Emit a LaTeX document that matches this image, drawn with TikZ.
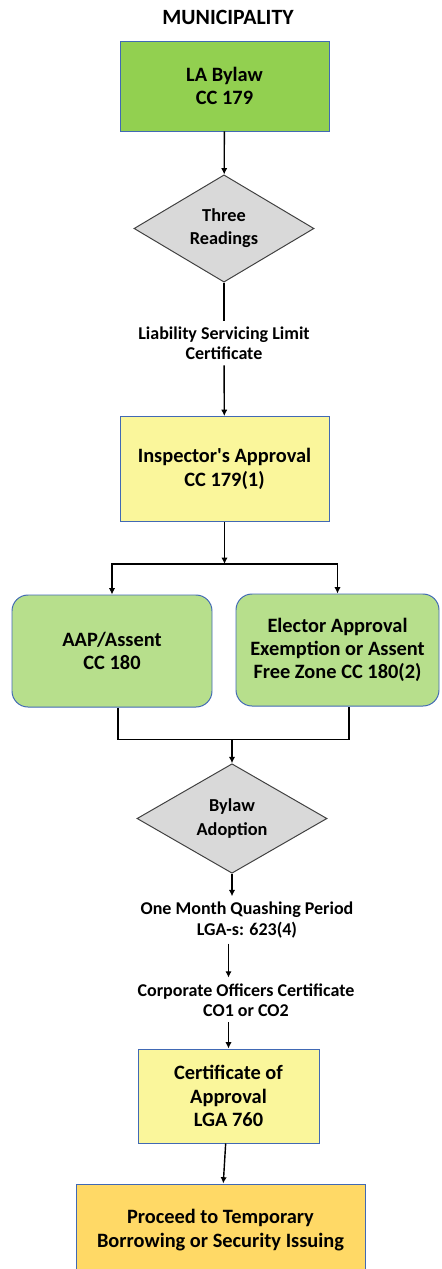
\documentclass[tikz,border=0pt]{standalone}
\usepackage{fontspec}
\setmainfont{Carlito}
\usepackage{tikz}
\usepackage{xcolor}
\usetikzlibrary{shapes,shapes.geometric,arrows.meta,positioning}
\definecolor{bylawgreen}{RGB}{146,208,80}
\definecolor{assentgreen}{RGB}{183,223,140}
\definecolor{approvalyellow}{RGB}{250,246,155}
\definecolor{proceedorange}{RGB}{255,217,102}
\definecolor{outlineblue}{RGB}{65,105,180}
\definecolor{readinggray}{RGB}{217,217,217}
\definecolor{edgegray}{RGB}{64,64,64}

\begin{document}
\begin{tikzpicture}[
    boxtext/.style={font=\fontsize{14.5}{16.6}\selectfont\bfseries, align=center},
    stagebox/.style={boxtext, draw=outlineblue, line width=0.7pt},
    decision/.style={font=\fontsize{13}{16.4}\selectfont\bfseries, align=center, diamond, draw=edgegray, line width=0.7pt, fill=readinggray, inner sep=0pt},
    steplabel/.style={font=\fontsize{12.8}{14.4}\selectfont\bfseries, align=center, inner sep=4pt},
    flowline/.style={draw, line width=1pt},
    flowarrow/.style={flowline, -{Latex[length=4.5pt,width=4.5pt]}}
  ]
        \useasboundingbox (0,0) rectangle (11.025,-31.725);

        % Title
        \node [font=\fontsize{15.5}{18}\selectfont\bfseries] (title) at (5.7,-0.425) {MUNICIPALITY};

        % Bylaw and readings
        \node [stagebox, fill=bylawgreen, below of=title, node distance=1.725cm, xshift=-0.0875cm, minimum width=5.225cm, minimum height=2.25cm] (bylaw) {LA Bylaw\\CC 179};
        \node [decision, below of=bylaw, node distance=3.5625cm, xshift=-0.0125cm, minimum width=4.5cm, minimum height=2.675cm] (readings) {Three\\Readings};
        \node [steplabel, below of=readings, node distance=2.8625cm] (limit) {Liability Servicing Limit\\Certificate};

        % Inspector
        \node [stagebox, fill=approvalyellow, below of=limit, node distance=3.15cm, xshift=0.0125cm, minimum width=5.225cm, minimum height=2.625cm] (inspector) {Inspector\textquotesingle s Approval\\CC 179(1)};

        % Elector approval
        \node [stagebox, fill=assentgreen, rounded corners=0.4cm, below of=inspector, node distance=4.55cm, xshift=-2.8125cm, minimum width=5cm, minimum height=2.8cm] (assent) {AAP/Assent\\CC 180};
        \node [stagebox, fill=assentgreen, rounded corners=0.4cm, below of=inspector, node distance=4.525cm, xshift=2.825cm, minimum width=5.075cm, minimum height=2.8cm] (exemption) {Elector Approval\\Exemption or Assent\\Free Zone CC 180(2)};

        % Adoption
        \node [decision, below of=inspector, node distance=8.7375cm, xshift=0.1875cm, minimum width=4.75cm, minimum height=2.675cm] (adoption) {Bylaw\\Adoption};
        \node [steplabel, below of=adoption, node distance=2.5375cm, xshift=0.375cm] (quashing) {One Month Quashing Period\\LGA-s: 623(4)};
        \node [steplabel, below of=quashing, node distance=2cm, xshift=-0.025cm] (officers) {Corporate Officers Certificate\\CO1 or CO2};

        % Certificate and result
        \node [stagebox, fill=approvalyellow, below of=officers, node distance=2.4cm, xshift=-0.4375cm, minimum width=4.525cm, minimum height=2.35cm] (certificate) {Certificate of\\Approval\\LGA 760};
        \node [stagebox, fill=proceedorange, below of=certificate, node distance=3.35cm, xshift=-0.2cm, minimum width=7.225cm, minimum height=2.3cm] (proceed) {Proceed to Temporary\\Borrowing or Security Issuing};

        % Junctions
        \coordinate [below=1.05cm of inspector.south] (split);
        \coordinate [above=0.6cm of adoption.north] (merge);

        % Arrows
        \draw [flowarrow] (bylaw) -- (readings);
        \draw [flowline] (readings) -- (limit);
        \draw [flowarrow] (limit) -- (inspector);
        \draw [flowarrow] (inspector) -- (split);
        \draw [flowline, {Latex[length=4.5pt,width=4.5pt]}-{Latex[length=4.5pt,width=4.5pt]}] (assent.north) |- (split) -| (exemption.north);
        \draw [flowline] ([xshift=0.15cm]assent.south) |- (merge) -| ([xshift=0.29cm]exemption.south);
        \draw [flowarrow] (merge) -- (adoption);
        \draw [flowarrow] (adoption.south) -- (adoption.south |- quashing.north);
        \draw [flowarrow] (certificate.north |- quashing.south) -- (certificate.north |- officers.north);
        \draw [flowarrow] (certificate.north |- officers.south) -- (certificate.north);
        \draw [flowarrow] (certificate) -- (proceed);
    \end{tikzpicture}
\end{document}
